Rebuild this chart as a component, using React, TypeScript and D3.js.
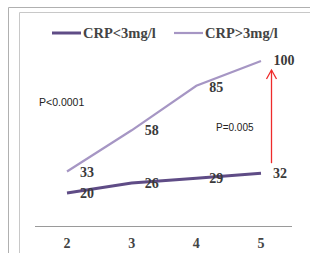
import React from 'react';
import * as d3 from 'd3';

const years = [2, 3, 4, 5];
const crpLow = [20, 26, 29, 32];
const crpHigh = [33, 58, 85, 100];
const seriesNames = ['CRP<3mg/l', 'CRP>3mg/l'];
const seriesColors = ['#5f4c86', '#a696c4'];

const W = 310;
const H = 253;

export default function App() {
  const x = d3.scaleLinear().domain([2, 5]).range([67, 261]);
  const y = d3.scaleLinear().domain([0, 100]).range([226, 61]);

  const line = d3.line<number>()
    .x((_, i) => x(years[i]))
    .y((d) => y(d));

  const serif = "'Liberation Serif', 'Times New Roman', serif";
  const sans = "'Liberation Sans', Arial, sans-serif";

  // offsets of the value annotations relative to their points
  const lowLabels = crpLow.map((v, i) => ({ v, dx: i === 3 ? 19 : 20, dy: i === 0 ? 5 : 5 }));
  const highLabels = crpHigh.map((v, i) => ({ v, dx: i === 3 ? 23 : 20, dy: i === 3 ? 4 : i === 2 ? 6 : 5 }));

  const ax = 271.5;
  const aTop = y(crpHigh[3]) + 9;
  const aBottom = y(crpLow[3]) - 10;

  return (
    <svg width={W} height={H} style={{ position: 'absolute', left: 0, top: 0, background: '#fff' }}>
      {/* frame */}
      <rect x={0} y={0} width={W} height={H} fill="#fff" />
      <path d={`M8.5,${H} V7.5 H${W}`} fill="none" stroke="#b0b0b0" strokeWidth={1} />
      <path d={`M19.5,${H} V12.5 H${W}`} fill="none" stroke="#c8c8c8" strokeWidth={1} />

      {/* legend */}
      {seriesNames.map((name, i) => {
        const lx = i === 0 ? 52 : 174;
        return (
          <g key={name}>
            <line x1={lx} x2={lx + 29} y1={33} y2={33} stroke={seriesColors[i]} strokeWidth={i === 0 ? 3 : 2.2} />
            <text x={lx + 31} y={38} fontFamily={serif} fontWeight="bold" fontSize={14.5} fill="#444">{name}</text>
          </g>
        );
      })}

      {/* baseline and ticks */}
      <line x1={35} x2={292} y1={y(0) + 0.5} y2={y(0) + 0.5} stroke="#9a9a9a" strokeWidth={1} />
      {years.map((yr) => (
        <text key={yr} x={x(yr)} y={248} textAnchor="middle" fontFamily={serif} fontWeight="bold" fontSize={14} fill="#444">{yr}</text>
      ))}

      {/* lines */}
      <path d={line(crpHigh) || ''} fill="none" stroke={seriesColors[1]} strokeWidth={2.2} />
      <path d={line(crpLow) || ''} fill="none" stroke={seriesColors[0]} strokeWidth={3} />

      {/* value labels */}
      {highLabels.map((d, i) => (
        <text key={'h' + i} x={x(years[i]) + d.dx} y={y(d.v) + d.dy} textAnchor="middle" fontFamily={serif} fontWeight="bold" fontSize={14} fill="#3a3a3a">{d.v}</text>
      ))}
      {lowLabels.map((d, i) => (
        <text key={'l' + i} x={x(years[i]) + d.dx} y={y(d.v) + d.dy} textAnchor="middle" fontFamily={serif} fontWeight="bold" fontSize={14} fill="#3a3a3a">{d.v}</text>
      ))}

      {/* significance annotations */}
      <text x={39} y={106} fontFamily={sans} fontSize={10.5} fill="#222">P&lt;0.0001</text>
      <text x={216} y={131} fontFamily={sans} fontSize={10} fill="#222">P=0.005</text>
      <line x1={ax} x2={ax} y1={aBottom} y2={aTop} stroke="#ee2b2b" strokeWidth={1.3} />
      <path d={`M${ax - 5},${aTop + 9} L${ax},${aTop} L${ax + 5},${aTop + 9}`} fill="none" stroke="#ee2b2b" strokeWidth={1.3} />
    </svg>
  );
}
